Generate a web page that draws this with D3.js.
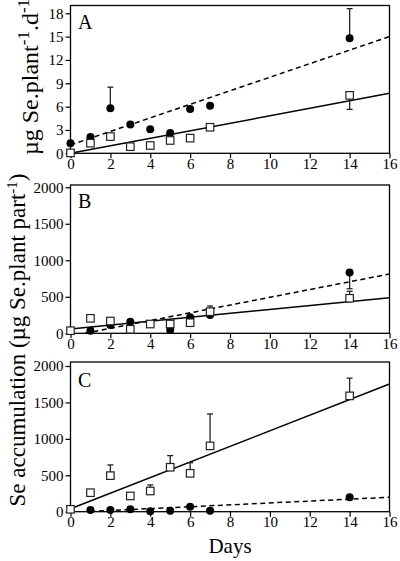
<!DOCTYPE html>
<html><head><meta charset="utf-8">
<script src="https://cdn.jsdelivr.net/npm/d3@7/dist/d3.min.js"></script>
<style>html,body{margin:0;padding:0;background:#fff;}svg{display:block;}</style>
</head><body>
<script>
// ---- data ----
const days = [0, 1, 2, 3, 4, 5, 6, 7, 14];
const xTicks = [0, 2, 4, 6, 8, 10, 12, 14, 16];

// Panel A (ug Se . plant-1 . d-1)
const aCircles   = [1.3, 2.1, 5.8, 3.7, 3.1, 2.6, 5.7, 6.1, 14.8];
const aCircleErr = [null, null, 8.5, null, null, null, null, null, 18.6];
const aSquares   = [0.05, 1.3, 2.15, 0.85, 1.0, 1.65, 1.95, 3.35, 7.45];
const aSquareErr = [null, null, null, null, null, null, null, null, 5.65];
const aDashFit = [1.07, 0.871, 0];   // intercept, slope, start day
const aSolidFit = [0.0, 0.482, 0];
const aTicks = [0, 3, 6, 9, 12, 15, 18];

// Panel B
const bCircles   = [null, 36, 114, 159, null, 45, 219, 251, 831];
const bCircleErr = [null, null, null, null, null, null, null, null, 610];
const bSquares   = [36, 205, 168, 55, 127, 127, 145, 296, 480];
const bSquareErr = [null, null, null, null, null, null, null, 374, 575];
const bDashFit = [-39, 53.2, 0.73];
const bSolidFit = [58, 26.9, 0];
const bcTicks = [0, 500, 1000, 1500, 2000];

// Panel C
const cCircles   = [null, 23, 23, 33, 5, 14, 69, 14, 198];
const cCircleErr = [null, null, null, null, null, null, null, null, null];
const cSquares   = [33, 261, 495, 216, 284, 610, 527, 903, 1590];
const cSquareErr = [null, null, 642, null, 367, 770, 673, 1342, 1833];
const cDashFit = [-10, 13, 1];
const cSolidFit = [40, 107, 0];

// ---- drawing ----
const W = 400, H = 561;
const FONT = "'Liberation Serif','Times New Roman',Times,serif";
const svg = d3.select("body").append("svg").attr("width", W).attr("height", H)
  .style("font-family", FONT);

const x = d3.scaleLinear().domain([0, 16]).range([70.5, 389.5]);

const panels = [
  {letter: "A", top: 5.5, bottom: 153.3, ymax: 19, ticks: aTicks,
   circles: aCircles, cErr: aCircleErr, squares: aSquares, sErr: aSquareErr,
   dash: aDashFit, solid: aSolidFit, letterY: 28.5},
  {letter: "B", top: 185, bottom: 333.3, ymax: 2031, ticks: bcTicks,
   circles: bCircles, cErr: bCircleErr, squares: bSquares, sErr: bSquareErr,
   dash: bDashFit, solid: bSolidFit, letterY: 208},
  {letter: "C", top: 362, bottom: 511.7, ymax: 2055, ticks: bcTicks,
   circles: cCircles, cErr: cCircleErr, squares: cSquares, sErr: cSquareErr,
   dash: cDashFit, solid: cSolidFit, letterY: 387}
];

panels.forEach(p => {
  const y = d3.scaleLinear().domain([0, p.ymax]).range([p.bottom, p.top]);
  const g = svg.append("g");

  // axes
  const xa = g.append("g").attr("transform", `translate(0,${p.bottom})`)
    .call(d3.axisBottom(x).tickValues(xTicks).tickSize(5).tickPadding(0).tickFormat(d3.format("d")));
  const ya = g.append("g").attr("transform", `translate(${x(0)},0)`)
    .call(d3.axisLeft(y).tickValues(p.ticks).tickSize(5).tickPadding(2).tickFormat(d3.format("d")));
  [xa, ya].forEach(a => {
    a.select(".domain").remove();
    a.selectAll("line").attr("stroke", "#000").attr("stroke-width", 1.2);
    a.selectAll("text").attr("fill", "#000").style("font-family", FONT).style("font-size", "15px");
  });

  // frame
  g.append("rect").attr("x", x(0)).attr("y", p.top)
    .attr("width", x(16) - x(0)).attr("height", p.bottom - p.top)
    .attr("fill", "none").attr("stroke", "#000").attr("stroke-width", 1.3);

  // fit lines
  const fitLine = (f) => [[f[2], f[0] + f[1] * f[2]], [16, f[0] + f[1] * 16]];
  const line = d3.line().x(d => x(d[0])).y(d => y(d[1]));
  g.append("path").attr("d", line(fitLine(p.dash))).attr("fill", "none")
    .attr("stroke", "#000").attr("stroke-width", 1.5).attr("stroke-dasharray", "5,3.5");
  g.append("path").attr("d", line(fitLine(p.solid))).attr("fill", "none")
    .attr("stroke", "#000").attr("stroke-width", 1.5);

  // error bars
  const errs = [];
  days.forEach((d, i) => {
    if (p.cErr[i] != null && p.circles[i] != null) errs.push([d, p.circles[i], p.cErr[i]]);
    if (p.sErr[i] != null && p.squares[i] != null) errs.push([d, p.squares[i], p.sErr[i]]);
  });
  const eg = g.append("g").attr("stroke", "#222").attr("stroke-width", 1.3);
  errs.forEach(e => {
    eg.append("line").attr("x1", x(e[0])).attr("x2", x(e[0])).attr("y1", y(e[1])).attr("y2", y(e[2]));
    eg.append("line").attr("x1", x(e[0]) - 3).attr("x2", x(e[0]) + 3).attr("y1", y(e[2])).attr("y2", y(e[2]));
  });

  // circles
  g.append("g").selectAll("circle")
    .data(days.map((d, i) => [d, p.circles[i]]).filter(d => d[1] != null))
    .join("circle").attr("cx", d => x(d[0])).attr("cy", d => y(d[1])).attr("r", 4)
    .attr("fill", "#000");

  // squares
  const s = 7.5;
  g.append("g").selectAll("rect")
    .data(days.map((d, i) => [d, p.squares[i]]).filter(d => d[1] != null))
    .join("rect").attr("x", d => x(d[0]) - s / 2).attr("y", d => y(d[1]) - s / 2)
    .attr("width", s).attr("height", s)
    .attr("fill", "#fff").attr("stroke", "#222").attr("stroke-width", 1.2);

  // panel letter
  g.append("text").attr("x", 78).attr("y", p.letterY).text(p.letter)
    .style("font-size", "20px").attr("fill", "#000");
});

// x label
svg.append("text").attr("x", (x(0) + x(16)) / 2).attr("y", 553).attr("text-anchor", "middle")
  .style("font-size", "21px").text("Days");

// y label A
const la = svg.append("text").attr("transform", "translate(38,77) rotate(-90)")
  .attr("text-anchor", "middle").style("font-size", "24px");
la.append("tspan").text("\u00b5g Se.plant");
la.append("tspan").attr("dy", -9).style("font-size", "17px").text("-1");
la.append("tspan").attr("dy", 9).text(".d");
la.append("tspan").attr("dy", -9).style("font-size", "17px").text("-1");

// y label B/C
const lb = svg.append("text").attr("transform", "translate(25,340) rotate(-90)")
  .attr("text-anchor", "middle").style("font-size", "23px");
lb.append("tspan").text("Se accumulation (\u00b5g Se.plant part");
lb.append("tspan").attr("dy", -8).style("font-size", "15px").text("-1");
lb.append("tspan").attr("dy", 8).text(")");
</script>
</body></html>
